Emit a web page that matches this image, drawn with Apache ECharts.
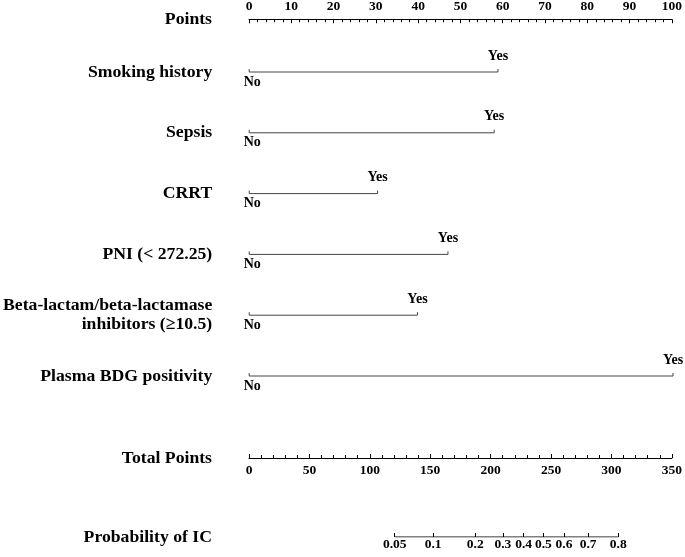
<!DOCTYPE html>
<html>
<head>
<meta charset="utf-8">
<script src="https://cdn.jsdelivr.net/npm/echarts@6/dist/echarts.min.js"></script>
<style>html,body{margin:0;padding:0;background:#fff}#c{width:685px;height:557px}</style>
</head>
<body>
<div id="c"></div>
<script>
// ---- data ----
var factorNames = ['Smoking history', 'Sepsis', 'CRRT', 'PNI (< 272.25)', 'Beta-lactam/beta-lactamase\ninhibitors (\u226510.5)', 'Plasma BDG positivity'];
var lowLabels = ['No', 'No', 'No', 'No', 'No', 'No'];
var highLabels = ['Yes', 'Yes', 'Yes', 'Yes', 'Yes', 'Yes'];
var yesPoints = [58.7, 57.8, 30.3, 46.9, 39.7, 100];
var pointsTicks = [0, 10, 20, 30, 40, 50, 60, 70, 80, 90, 100];
var totalTicks = [0, 50, 100, 150, 200, 250, 300, 350];
var probLevels = ['0.05', '0.1', '0.2', '0.3', '0.4', '0.5', '0.6', '0.7', '0.8'];
var probAtTotal = [120.3, 152.0, 186.8, 209.6, 226.7, 243.0, 260.0, 279.9, 304.8];

// ---- chart ----
var FONT = '"Liberation Serif", "Times New Roman", serif';
var L = 249, W = 424;
var labelStyle = { fontFamily: FONT, fontWeight: 'bold', fontSize: 13.5, color: '#000' };
var nameStyle = { fontFamily: FONT, fontWeight: 'bold', fontSize: 17.7, color: '#000' };

var factorData = yesPoints.map(function (v, i) { return [v, i]; });

var chart = echarts.init(document.getElementById('c'), null, { renderer: 'canvas' });
chart.setOption({
  animation: false,
  grid: [
    { left: L, width: W, top: 18, height: 1 },
    { left: L, width: W, top: 72, height: 304 },
    { left: L, width: W, top: 457, height: 1 },
    { left: L, width: W, top: 536, height: 1 }
  ],
  xAxis: [
    {
      gridIndex: 0, type: 'value', position: 'top',
      min: pointsTicks[0], max: pointsTicks[pointsTicks.length - 1], interval: 10,
      name: 'Points', nameLocation: 'start', nameGap: 37, nameTextStyle: Object.assign({ padding: [0, 0, 4, 0] }, nameStyle),
      axisLine: { show: true, lineStyle: { color: '#000', width: 1 } },
      axisTick: { show: true, inside: true, length: 4, lineStyle: { color: '#000' } },
      minorTick: { show: true, splitNumber: 5, length: 3, lineStyle: { color: '#000' } },
      axisLabel: Object.assign({ margin: 5 }, labelStyle),
      splitLine: { show: false }
    },
    {
      gridIndex: 1, type: 'value', min: 0, max: 100, show: false
    },
    {
      gridIndex: 2, type: 'value', position: 'bottom',
      min: totalTicks[0], max: totalTicks[totalTicks.length - 1], interval: 50,
      name: 'Total Points', nameLocation: 'start', nameGap: 37, nameTextStyle: nameStyle,
      axisLine: { show: true, lineStyle: { color: '#000', width: 1 } },
      axisTick: { show: true, inside: true, length: 4, lineStyle: { color: '#000' } },
      minorTick: { show: true, splitNumber: 5, length: 3, lineStyle: { color: '#000' } },
      axisLabel: Object.assign({ margin: 6 }, labelStyle),
      splitLine: { show: false }
    },
    {
      gridIndex: 3, type: 'value', position: 'bottom',
      min: totalTicks[0], max: totalTicks[totalTicks.length - 1],
      name: 'Probability of IC', nameLocation: 'start', nameGap: 37, nameTextStyle: nameStyle,
      axisLine: { show: false },
      axisTick: { show: true, inside: true, length: 4, customValues: probAtTotal, lineStyle: { color: '#000' } },
      axisLabel: Object.assign({
        margin: 1, customValues: probAtTotal,
        formatter: function (v) {
          var best = 0, d = Infinity;
          for (var i = 0; i < probAtTotal.length; i++) {
            var dd = Math.abs(probAtTotal[i] - v);
            if (dd < d) { d = dd; best = i; }
          }
          return probLevels[best];
        }
      }, labelStyle),
      splitLine: { show: false }
    }
  ],
  yAxis: [
    { gridIndex: 0, type: 'value', show: false },
    {
      gridIndex: 1, type: 'category', data: factorNames, inverse: true, boundaryGap: false,
      axisLine: { show: false }, axisTick: { show: false }, splitLine: { show: false },
      axisLabel: Object.assign({}, nameStyle, { margin: 37, align: 'right', lineHeight: 19, interval: 0 })
    },
    { gridIndex: 2, type: 'value', show: false },
    { gridIndex: 3, type: 'value', min: 0, max: 1, show: false }
  ],
  series: [
    {
      type: 'custom', xAxisIndex: 1, yAxisIndex: 1,
      data: factorData,
      encode: { x: 0, y: 1 },
      renderItem: function (params, api) {
        var idx = params.dataIndex;
        var p0 = api.coord([0, api.value(1)]);
        var p1 = api.coord([api.value(0), api.value(1)]);
        var st = { stroke: '#444', lineWidth: 1 };
        var tx = { fontFamily: FONT, fontWeight: 'bold', fontSize: 14, fill: '#000', align: 'center', verticalAlign: 'middle' };
        return {
          type: 'group',
          children: [
            { type: 'line', shape: { x1: p0[0], y1: p0[1], x2: p1[0], y2: p1[1] }, style: st },
            { type: 'line', shape: { x1: p0[0], y1: p0[1], x2: p0[0], y2: p0[1] - 3 }, style: st },
            { type: 'line', shape: { x1: p1[0], y1: p1[1], x2: p1[0], y2: p1[1] - 3 }, style: st },
            { type: 'text', x: p0[0] + 3, y: p0[1] + 10, style: Object.assign({ text: lowLabels[idx] }, tx) },
            { type: 'text', x: p1[0], y: p1[1] - 16, style: Object.assign({ text: highLabels[idx] }, tx) }
          ]
        };
      }
    },
    {
      type: 'line', xAxisIndex: 3, yAxisIndex: 3, symbol: 'none', silent: true,
      lineStyle: { color: '#000', width: 1 },
      data: [[probAtTotal[0], 0], [probAtTotal[probAtTotal.length - 1], 0]]
    }
  ]
});
</script>
</body>
</html>
